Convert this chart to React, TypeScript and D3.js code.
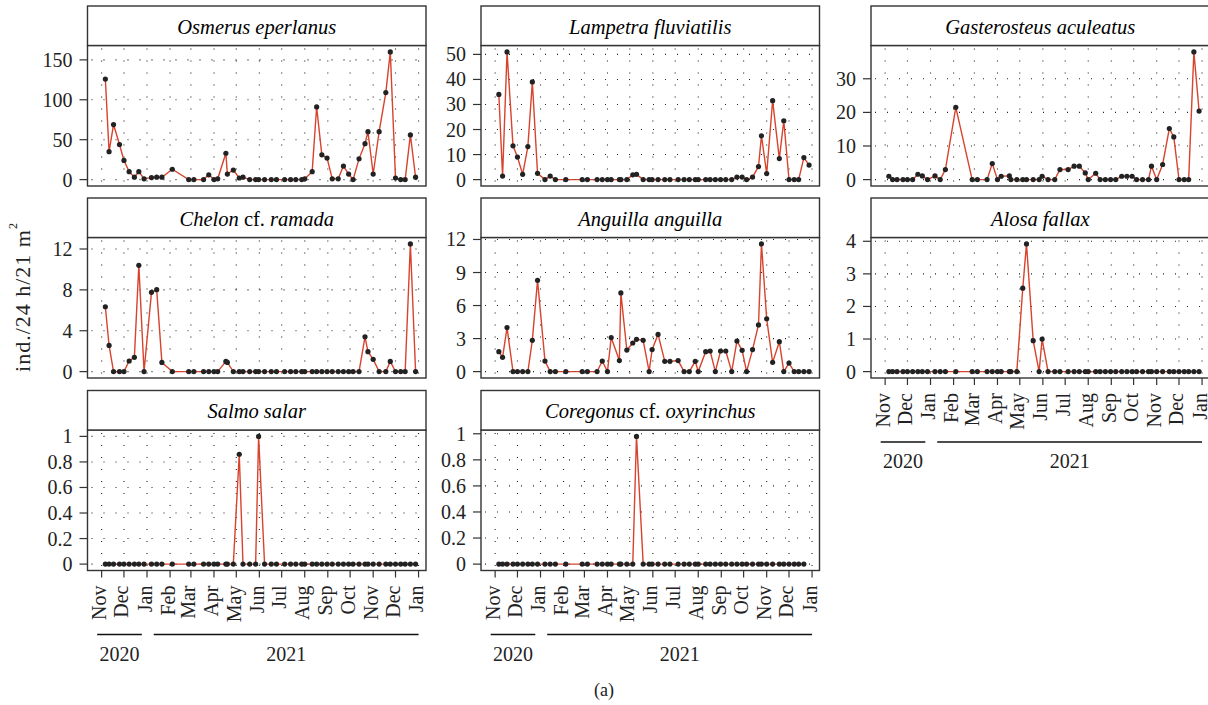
import React from "react";
import * as d3 from "d3";

// ---------- DATA ----------
const sampleDates = [
  "2020-11-06","2020-11-11","2020-11-17","2020-11-25","2020-12-01","2020-12-08","2020-12-15","2020-12-21","2020-12-28",
  "2021-01-07","2021-01-14","2021-01-21","2021-02-04","2021-02-26","2021-03-05","2021-03-18","2021-03-25","2021-04-01",
  "2021-04-06","2021-04-17","2021-04-19","2021-04-27","2021-05-05","2021-05-10","2021-05-19","2021-05-27","2021-05-31",
  "2021-06-08","2021-06-17","2021-06-24","2021-07-05","2021-07-13","2021-07-20","2021-07-28","2021-08-01","2021-08-11",
  "2021-08-17","2021-08-24","2021-08-31","2021-09-07","2021-09-15","2021-09-22","2021-09-29","2021-10-05","2021-10-13",
  "2021-10-21","2021-10-25","2021-11-01","2021-11-09","2021-11-18","2021-11-24","2021-12-01","2021-12-08","2021-12-14",
  "2021-12-21","2021-12-28"
];

const osmerus = [126,35,69,44,24,10,3,10,1,2.5,3,3,13,0,0,0,6,0,1,33,7,12,2,3,0,0,0,0,0,0,0,0,0,0,1,10,91,31,27,1,1,17,7,0,26,45,60,7,60,109,160,2,0,0,56,3];
const lampetra = [34,1.4,51,13.5,9,2.1,13.2,39,2.5,0,1.4,0, 0,0,0,0,0,0,0,0,0,0, 1.9,2.1, 0,0,0,0,0,0,0,0,0,0,0,0,0,0,0,0,0, 1,1,0,1,5.2,17.5,2.4,31.5,8.4,23.5,0,0,0,8.8,5.8];
const gasterosteus = [1,0,0,0,0,0,1.6,1.1,0,1.1,0,3,21.5,0,0,0,4.8,0,1,1.1,0,0,0,0,0,0,1,0,0,3,3,4,4,2,0,1.9,0,0,0,0,1,1,1,0,0,0,4,0,4.5,15.2,12.7,0,0,0,38,20.4];
const chelon = [6.35,2.56,0,0,0,1.04,1.4,10.4,0,7.76,8.02,0.9,0,0,0,0,0,0,0,1,0.9,0, 0,0,0,0,0,0,0,0,0,0,0,0,0,0,0,0,0,0,0,0,0,0,0, 3.4,1.95,1.2,0,0,1,0,0,0,12.5,0];
const anguilla = [1.81,1.3,4.0,0,0,0,0,2.84,8.29,0.96,0,0,0,0,0,0,0.96,0,3.1,1,7.15,1.96,2.6,2.93,2.84,0,2.0,3.38,0.93,0.93,1,0,0,0.93,0,1.81,1.87,0,1.87,1.87,0,2.78,1.93,0,2,4.24,11.6,4.8,0.84,2.72,0,0.78,0,0,0,0];
const alosa = [0,0,0,0,0,0,0,0,0,0,0,0,0,0,0,0,0,0,0,0,0,0,2.56,3.92,0.95,0,1.0,0,0,0,0,0,0,0,0,0,0,0,0,0,0,0,0,0,0,0,0,0,0,0,0,0,0,0,0,0];
const salmo = [0,0,0,0,0,0,0,0,0,0,0,0,0,0,0,0,0,0,0,0,0,0,0.86,0,0,0,1.0,0,0,0,0,0,0,0,0,0,0,0,0,0,0,0,0,0,0,0,0,0,0,0,0,0,0,0,0,0];
const coregonus = [0,0,0,0,0,0,0,0,0,0,0,0,0,0,0,0,0,0,0,0,0,0,0,0.98,0,0,0,0,0,0,0,0,0,0,0,0,0,0,0,0,0,0,0,0,0,0,0,0,0,0,0,0,0,0,0];

const osmerusTicks = [0,50,100,150];
const lampetraTicks = [0,10,20,30,40,50];
const gasterosteusTicks = [0,10,20,30];
const chelonTicks = [0,4,8,12];
const anguillaTicks = [0,3,6,9,12];
const alosaTicks = [0,1,2,3,4];
const fractionTicks = [0,0.2,0.4,0.6,0.8,1];

// titles: [italic genus, middle upright part, italic species]
const titleGenus = ["Osmerus","Lampetra","Gasterosteus","Chelon","Anguilla","Alosa","Salmo","Coregonus"];
const titleMid = [" "," "," "," cf. "," "," "," "," cf. "];
const titleSpecies = ["eperlanus","fluviatilis","aculeatus","ramada","anguilla","fallax","salar","oxyrinchus"];

const yearLabels = ["2020","2021"];
const yearStarts = ["2020-10-26","2021-01-10"];
const yearEnds = ["2020-12-25","2022-01-01"];

const yLabel = "ind./24 h/21 m";

// ---------- LAYOUT ----------
const FONT = "'Liberation Serif', 'Times New Roman', serif";
const colX = [87.5, 481, 871];
const rowTop = [6, 198, 390.5];
const panelW = 338.5;
const stripH = 39.5;
const plotH = 140.5;
const LINE = "#d8432d";
const INK = "#222";

const parse = d3.utcParse("%Y-%m-%d");
const dates = sampleDates.map((s) => parse(s) as Date);
const xDomain = [parse("2020-10-13") as Date, parse("2022-01-11") as Date];
const months = d3.utcMonth.range(parse("2020-11-01") as Date, parse("2022-01-02") as Date);
const fmtMonth = d3.utcFormat("%b");

const panels = [
  { v: osmerus, t: osmerusTicks, col: 0, row: 0, axis: false },
  { v: lampetra, t: lampetraTicks, col: 1, row: 0, axis: false },
  { v: gasterosteus, t: gasterosteusTicks, col: 2, row: 0, axis: false },
  { v: chelon, t: chelonTicks, col: 0, row: 1, axis: false },
  { v: anguilla, t: anguillaTicks, col: 1, row: 1, axis: false },
  { v: alosa, t: alosaTicks, col: 2, row: 1, axis: true },
  { v: salmo, t: fractionTicks, col: 0, row: 2, axis: true },
  { v: coregonus, t: fractionTicks, col: 1, row: 2, axis: true },
];

function Panel({ idx }: { idx: number }) {
  const p = panels[idx];
  const x0 = colX[p.col];
  const top = rowTop[p.row];
  const pTop = top + stripH;
  const pBot = pTop + plotH;
  const x = d3.scaleUtc().domain(xDomain).range([x0, x0 + panelW]);
  const maxV = d3.max(p.v) as number;
  const pad = maxV * 0.05;
  const y = d3.scaleLinear().domain([-pad, maxV + pad]).range([pBot, pTop]);
  const pts = p.v.map((v, i) => [dates[i], v] as [Date, number]);
  const line = d3.line<[Date, number]>().x((d) => x(d[0])).y((d) => y(d[1]));
  const visibleTicks = p.t.filter((t) => y(t) >= pTop - 0.5);
  return (
    <g>
      {/* grid */}
      {months.map((m, i) => (
        <line key={"vg" + i} x1={x(m)} x2={x(m)} y1={pTop + 3} y2={pBot} stroke={INK} strokeWidth={1.1} strokeDasharray="1 11" />
      ))}
      {visibleTicks.map((t, i) => (
        <line key={"hg" + i} x1={x0 + 4} x2={x0 + panelW} y1={y(t)} y2={y(t)} stroke={INK} strokeWidth={1.1} strokeDasharray="1 11" />
      ))}
      {/* data */}
      <path d={line(pts) || ""} fill="none" stroke={LINE} strokeWidth={1.4} />
      {pts.map((d, i) => (
        <circle key={"pt" + i} cx={x(d[0])} cy={y(d[1])} r={2.6} fill={INK} />
      ))}
      {/* frame */}
      <rect x={x0} y={pTop} width={panelW} height={plotH} fill="none" stroke="#333" strokeWidth={1.4} />
      {/* strip */}
      <rect x={x0} y={top} width={panelW} height={stripH} fill="#fff" stroke="#333" strokeWidth={1.4} />
      <text x={x0 + panelW / 2} y={top + stripH / 2 + 1} textAnchor="middle" dominantBaseline="central" fontFamily={FONT} fontSize={20.5}>
        <tspan fontStyle="italic">{titleGenus[idx]}</tspan>
        <tspan>{titleMid[idx]}</tspan>
        <tspan fontStyle="italic">{titleSpecies[idx]}</tspan>
      </text>
      {/* y axis */}
      {visibleTicks.map((t, i) => (
        <g key={"yt" + i}>
          <line x1={x0 - 8} x2={x0} y1={y(t)} y2={y(t)} stroke="#333" strokeWidth={1.2} />
          <text x={x0 - 15} y={y(t)} textAnchor="end" dominantBaseline="central" fontFamily={FONT} fontSize={20} fill="#222">
            {String(t)}
          </text>
        </g>
      ))}
      {/* x axis */}
      {p.axis && (
        <g>
          {months.map((m, i) => (
            <g key={"xt" + i}>
              <line x1={x(m)} x2={x(m)} y1={pBot} y2={pBot + 7} stroke="#333" strokeWidth={1.2} />
              <text
                transform={`translate(${x(m) - 2.5},${pBot + 15}) rotate(-90)`}
                textAnchor="end"
                dominantBaseline="central"
                fontFamily={FONT}
                fontSize={20}
                fill="#222"
              >
                {fmtMonth(m)}
              </text>
            </g>
          ))}
          {yearLabels.map((yl, i) => {
            const xa = x(parse(yearStarts[i]) as Date);
            const xb = x(parse(yearEnds[i]) as Date);
            return (
              <g key={"yr" + i}>
                <line x1={xa} x2={xb} y1={pBot + 64} y2={pBot + 64} stroke="#111" strokeWidth={1.5} />
                <text x={(xa + xb) / 2} y={pBot + 90} textAnchor="middle" fontFamily={FONT} fontSize={20} fill="#222">
                  {yl}
                </text>
              </g>
            );
          })}
        </g>
      )}
    </g>
  );
}

export default function App() {
  return (
    <svg width={1208} height={705} style={{ position: "absolute", left: 0, top: 0, background: "#fff" }}>
      <rect x={0} y={0} width={1208} height={705} fill="#fff" />
      {panels.map((_, i) => (
        <Panel key={i} idx={i} />
      ))}
      <text transform="translate(22,297) rotate(-90)" textAnchor="middle" dominantBaseline="central" fontFamily={FONT} fontSize={22} letterSpacing={1} fill="#222">
        {yLabel}
        <tspan fontSize={12} dy={-9}>2</tspan>
      </text>
      <text x={604} y={696} textAnchor="middle" fontFamily={FONT} fontSize={18} fill="#222">(a)</text>
    </svg>
  );
}
